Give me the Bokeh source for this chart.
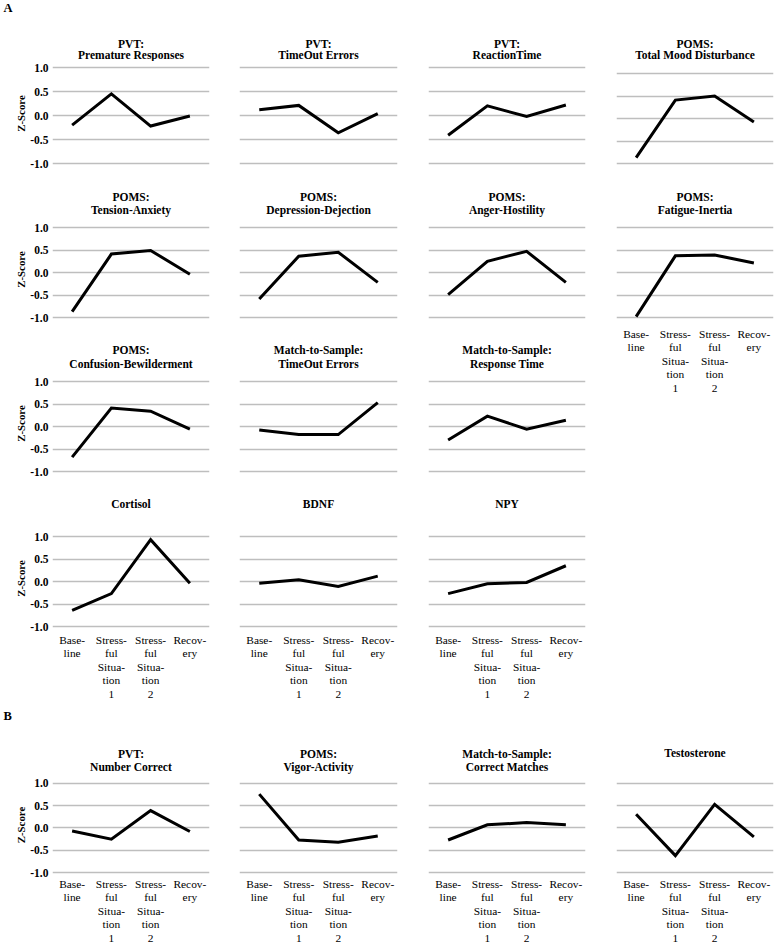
from bokeh.plotting import figure
from bokeh.models import Range1d, FixedTicker, Label, PrintfTickFormatter, Grid
from bokeh.layouts import row, column
from bokeh.embed import file_html
from bokeh.resources import INLINE

# ---------------- data ----------------
categories = ["Baseline", "Stressful Situation 1", "Stressful Situation 2", "Recovery"]
tick_labels = ["Base-\nline", "Stress-\nful\nSitua-\ntion\n1", "Stress-\nful\nSitua-\ntion\n2", "Recov-\nery"]
y_ticks = [-1.0, -0.5, 0.0, 0.5, 1.0]
y_axis_title = "Z-Score"
section_labels = ["A", "B"]

# Section A
pvt_premature = [-0.20, 0.45, -0.22, -0.01]
pvt_timeout = [0.12, 0.21, -0.36, 0.04]
pvt_reaction = [-0.41, 0.20, -0.02, 0.22]
poms_tmd = [-0.87, 0.41, 0.50, -0.08]
poms_tension = [-0.87, 0.41, 0.49, -0.04]
poms_depression = [-0.59, 0.36, 0.45, -0.22]
poms_anger = [-0.49, 0.25, 0.47, -0.22]
poms_fatigue = [-0.98, 0.37, 0.39, 0.21]
poms_confusion = [-0.68, 0.41, 0.34, -0.06]
mts_timeout = [-0.08, -0.18, -0.18, 0.53]
mts_response = [-0.30, 0.23, -0.06, 0.14]
cortisol = [-0.64, -0.27, 0.93, -0.04]
bdnf = [-0.04, 0.04, -0.11, 0.12]
npy = [-0.27, -0.05, -0.02, 0.35]
# Section B
pvt_correct = [-0.07, -0.25, 0.39, -0.08]
poms_vigor = [0.76, -0.27, -0.32, -0.18]
mts_matches = [-0.27, 0.07, 0.12, 0.07]
testosterone = [0.31, -0.62, 0.53, -0.20]

titles = {
    "pvt_premature": "PVT:\nPremature Responses",
    "pvt_timeout": "PVT:\nTimeOut Errors",
    "pvt_reaction": "PVT:\nReactionTime",
    "poms_tmd": "POMS:\nTotal Mood Disturbance",
    "poms_tension": "POMS:\nTension-Anxiety",
    "poms_depression": "POMS:\nDepression-Dejection",
    "poms_anger": "POMS:\nAnger-Hostility",
    "poms_fatigue": "POMS:\nFatigue-Inertia",
    "poms_confusion": "POMS:\nConfusion-Bewilderment",
    "mts_timeout": "Match-to-Sample:\nTimeOut Errors",
    "mts_response": "Match-to-Sample:\nResponse Time",
    "cortisol": "Cortisol",
    "bdnf": "BDNF",
    "npy": "NPY",
    "pvt_correct": "PVT:\nNumber Correct",
    "poms_vigor": "POMS:\nVigor-Activity",
    "mts_matches": "Match-to-Sample:\nCorrect Matches",
    "testosterone": "Testosterone",
}

# ---------------- layout geometry (pixels) ----------------
PB = 2.0   # frame padding below the -1.0 gridline
FONT = "Liberation Serif"
CELL_X = [0, 224, 412, 600, 774]
FRAME_L = [52, 239, 428, 616]
FRAME_R = [209, 397, 585, 773]
GRID_COLOR = "#BEBEBE"


def no_frame_align(fig):
    if "frame_align" in fig.properties():
        fig.frame_align = False


def text_fig(W, H, items):
    t = figure(width=W, height=H, x_range=Range1d(0, W), y_range=Range1d(H, 0),
               output_backend="svg", toolbar_location=None, title=None,
               x_axis_location=None, y_axis_location=None,
               min_border_left=0, min_border_right=0, min_border_top=0, min_border_bottom=0)
    no_frame_align(t)
    t.outline_line_color = None
    t.background_fill_color = "white"
    t.border_fill_color = "white"
    t.center = [r for r in t.center if not isinstance(r, Grid)]
    for (x, y, text, size, align) in items:
        t.add_layout(Label(x=x, y=y, text=text, text_align=align, text_baseline="middle",
                           text_font=FONT, text_font_size=size, text_font_style="bold",
                           text_color="black"))
    return t


def make_panel(key, vals, col, cell_t, cell_b, fr_t, fr_b, title_y,
               y_axis=False, x_axis=False, x_standoff=4, letter=None, letter_y=None, pt=8.0):
    cl, cr = CELL_X[col], CELL_X[col + 1]
    fl, fr = FRAME_L[col], FRAME_R[col]
    W = cr - cl
    top = int(round(fr_t - pt))
    Ht = top - cell_t
    H = cell_b - top
    bb = cell_b - int(round(fr_b + PB))
    ppu = (fr_b - fr_t) / 2.0
    nx = len(categories)

    # title strip
    items = []
    xc = (fl + fr) / 2.0 - cl
    for i, line in enumerate(titles[key].split("\n")):
        items.append((xc, title_y[i] - cell_t, line, "11.5px", "center"))
    if letter is not None:
        items.append((3, letter_y - cell_t, letter, "12.5px", "left"))
    tf = text_fig(W, Ht, items)

    p = figure(width=W, height=H, x_range=Range1d(0, nx),
               y_range=Range1d(-1.0 - PB / ppu, 1.0 + pt / ppu),
               output_backend="svg", toolbar_location=None, title=None,
               x_axis_location="below" if x_axis else None,
               y_axis_location="left" if y_axis else None,
               min_border_left=fl - cl, min_border_right=cr - fr,
               min_border_top=0, min_border_bottom=bb)
    no_frame_align(p)
    p.outline_line_color = None
    p.background_fill_color = "white"
    p.border_fill_color = "white"
    p.center = [r for r in p.center if not isinstance(r, Grid)]
    p.add_layout(Grid(dimension=1, ticker=FixedTicker(ticks=y_ticks),
                      grid_line_color=GRID_COLOR, grid_line_width=1.3), "center")

    xs = [i + 0.5 for i in range(nx)]
    p.line(xs, vals, line_color="black", line_width=3.0, line_join="miter")

    if y_axis:
        ax = p.yaxis[0]
        ax.ticker = FixedTicker(ticks=y_ticks)
        ax.formatter = PrintfTickFormatter(format="%.1f")
        ax.axis_line_color = None
        ax.major_tick_line_color = None
        ax.minor_tick_line_color = None
        ax.major_tick_out = 0
        ax.major_tick_in = 0
        ax.major_label_standoff = 4
        ax.major_label_text_font = FONT
        ax.major_label_text_font_size = "11.5px"
        ax.major_label_text_font_style = "bold"
        ax.major_label_text_color = "black"
        ax.axis_label = y_axis_title
        ax.axis_label_text_font = FONT
        ax.axis_label_text_font_size = "10.8px"
        ax.axis_label_text_font_style = "bold"
        ax.axis_label_text_color = "black"
        ax.axis_label_standoff = 0
    if x_axis:
        ax = p.xaxis[0]
        ax.ticker = FixedTicker(ticks=xs)
        ax.major_label_overrides = {x: lab for x, lab in zip(xs, tick_labels)}
        ax.axis_line_color = None
        ax.major_tick_line_color = None
        ax.minor_tick_line_color = None
        ax.major_tick_out = 0
        ax.major_tick_in = 0
        ax.major_label_standoff = x_standoff
        ax.major_label_text_font = FONT
        ax.major_label_text_font_size = "11.4px"
        ax.major_label_text_color = "black"
        ax.major_label_text_line_height = 1.13
    return column(tf, p)


T1 = [43, 54]
T2 = [196, 209]
T3 = [349.5, 363]
T4 = [503]
TB = [753, 766]

f1 = make_panel("pvt_premature", pvt_premature, 0, 0, 180, 67, 163, T1, y_axis=True,
                letter=section_labels[0], letter_y=7.5, pt=6)
f2 = make_panel("pvt_timeout", pvt_timeout, 1, 0, 180, 67, 163, T1, pt=6)
f3 = make_panel("pvt_reaction", pvt_reaction, 2, 0, 180, 67, 163, T1, pt=6)
f4 = make_panel("poms_tmd", poms_tmd, 3, 0, 180, 73, 163, T1)

f5 = make_panel("poms_tension", poms_tension, 0, 180, 337, 227, 317, T2, y_axis=True)
f6 = make_panel("poms_depression", poms_depression, 1, 180, 337, 227, 317, T2)
f7 = make_panel("poms_anger", poms_anger, 2, 180, 337, 227, 317, T2)
f8 = make_panel("poms_fatigue", poms_fatigue, 3, 180, 410, 227, 317, T2, x_axis=True, x_standoff=8)

f9 = make_panel("poms_confusion", poms_confusion, 0, 337, 490, 381, 471, T3, y_axis=True)
f10 = make_panel("mts_timeout", mts_timeout, 1, 337, 490, 381, 471, T3)
f11 = make_panel("mts_response", mts_response, 2, 337, 490, 381, 471, T3)

f12 = make_panel("cortisol", cortisol, 0, 490, 704, 536, 626, T4, y_axis=True, x_axis=True, x_standoff=5)
f13 = make_panel("bdnf", bdnf, 1, 490, 704, 536, 626, T4, x_axis=True, x_standoff=5)
f14 = make_panel("npy", npy, 2, 490, 704, 536, 626, T4, x_axis=True, x_standoff=5)

g1 = make_panel("pvt_correct", pvt_correct, 0, 704, 946, 783, 873, TB, y_axis=True, x_axis=True,
                x_standoff=3, letter=section_labels[1], letter_y=715)
g2 = make_panel("poms_vigor", poms_vigor, 1, 704, 946, 783, 873, TB, x_axis=True, x_standoff=3)
g3 = make_panel("mts_matches", mts_matches, 2, 704, 946, 783, 873, TB, x_axis=True, x_standoff=3)
g4 = make_panel("testosterone", testosterone, 3, 704, 946, 783, 873, [752], x_axis=True, x_standoff=3)

left_a = column(row(f1, f2, f3), row(f5, f6, f7), row(f9, f10, f11), row(f12, f13, f14))
right_a = column(f4, f8)
p = column(row(left_a, right_a), row(g1, g2, g3, g4))

open("out.html", "w").write(file_html(p, INLINE))
